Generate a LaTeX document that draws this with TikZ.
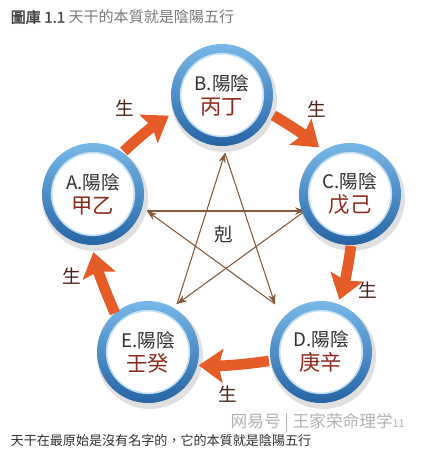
\documentclass[tikz,border=0pt]{standalone}
\usepackage{fontspec}
\setmainfont{Noto Sans CJK TC}[AutoFakeBold=2]
\usetikzlibrary{arrows.meta, positioning}

\definecolor{ringtop}{RGB}{120,184,232}
\definecolor{ringbot}{RGB}{38,100,164}
\definecolor{ringedge}{RGB}{196,224,244}
\definecolor{stemred}{RGB}{140,42,30}
\definecolor{shengorange}{RGB}{230,92,40}
\definecolor{kebrown}{RGB}{132,90,60}
\definecolor{textgray}{RGB}{48,48,48}
\definecolor{titlegray}{RGB}{120,120,120}
\definecolor{labelbrown}{RGB}{72,36,26}

\begin{document}
\begin{tikzpicture}[x=0.75pt,y=-0.75pt,
    stembox/.style={circle, fill=white, draw=ringedge, line width=1.2pt,
      minimum size=62pt, inner sep=0pt, align=center, text=textgray,
      font=\fontsize{14}{18}\selectfont},
    kearrow/.style={kebrown, line width=0.8pt, -{Stealth[length=7.5pt,width=5.5pt]}},
    sheng/.style={shengorange, line width=8pt,
      -{Stealth[length=18pt,width=25pt,inset=3pt]}},
    shenglabel/.style={text=labelbrown, font=\fontsize{14}{14}\selectfont}]
    \useasboundingbox (0,0) rectangle (427,455);

    % Title
    \node[anchor=west, text=titlegray, font=\fontsize{11.3}{12}\selectfont] (title) at (6,17)
      {\textbf{\color{textgray!90}圖庫 1.1} 天干的本質就是陰陽五行};

    % Ke star
    \coordinate (kA) at (147,211);
    \coordinate (kB) at (225,153);
    \coordinate (kC) at (305,211);
    \coordinate (kD) at (275,304);
    \coordinate (kE) at (177,304);
    \draw[kearrow] (kA) -- (kC);
    \draw[kearrow] (kC) -- (kE);
    \draw[kearrow] (kE) -- (kB);
    \draw[kearrow] (kB) -- (kD);
    \draw[kearrow] (kD) -- (kA);
    \node[text=textgray, font=\fontsize{14}{14}\selectfont] (ke) at (224,234) {剋};

    % Stems
    \foreach \n/\x/\y/\stem in {A/93/194/甲乙, B/222/95/丙丁, C/350/194/戊己,
                                D/321/352/庚辛, E/148/352/壬癸} {
      \fill[black, opacity=0.12] (\x+2,\y+4) circle (53);
      \shade[top color=ringtop, bottom color=ringbot] (\x,\y) circle (51);
      \node[stembox] (\n) at (\x,\y)
        {\n.陽陰\\{\color{stemred}\fontsize{16}{18}\selectfont\stem}};
    }

    % Sheng cycle
    \draw[sheng, shorten <=8pt, shorten >=11.5pt] (A.57) to[bend left=5] (B.197);
    \draw[sheng, shorten <=10pt, shorten >=11pt] (B.-19) to[bend left=5] (C.118);
    \draw[sheng, shorten <=7.5pt, shorten >=10pt] (C.-87) to[bend left=5] (D.70);
    \draw[sheng, shorten <=8pt, shorten >=8pt] (D.190) to[bend left=5] (E.-18);
    \draw[sheng, shorten <=7pt, shorten >=12.5pt] (E.134) to[bend left=5] (A.265);

    \node[shenglabel] (sAB) at (125,108) {生};
    \node[shenglabel] (sBC) at (317,109) {生};
    \node[shenglabel] (sCD) at (368,290) {生};
    \node[shenglabel] (sDE) at (228,394) {生};
    \node[shenglabel] (sEA) at (72,276) {生};

    % Caption
    \node[anchor=west, text=textgray, font=\fontsize{9.8}{10}\selectfont] (caption) at (6,441)
      {天干在最原始是沒有名字的，它的本質就是陰陽五行};
    \node[anchor=west, text=gray!60, font=\fontsize{12.5}{13}\selectfont] (mark) at (226,423)
      {网易号 | 王家荣命理学{\fontsize{8}{8}\selectfont 11}};
\end{tikzpicture}
\end{document}
